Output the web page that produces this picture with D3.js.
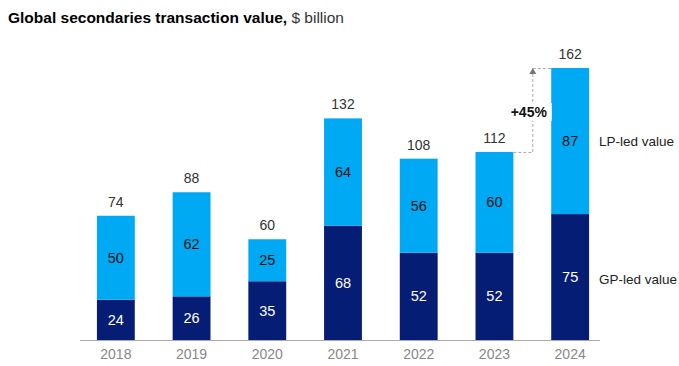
<!DOCTYPE html>
<html><head><meta charset="utf-8">
<script src="https://cdn.jsdelivr.net/npm/d3@7"></script>
<style>body{margin:0;background:#fff}svg{display:block}text{font-family:"Liberation Sans",Arial,sans-serif}</style>
</head><body><svg id="c" width="679" height="366"></svg>
<script>
const years = ["2018","2019","2020","2021","2022","2023","2024"];
const gpLed = [24,26,35,68,52,52,75];
const lpLed = [50,62,25,64,56,60,87];
const totals = [74,88,60,132,108,112,162];
const seriesNames = ["GP-led value","LP-led value"];
const growthLabel = "+45%";

const svg = d3.select("#c");
const baseY = 340;
const x = d3.scaleBand().domain(years).range([78, 608]).paddingInner(0.5).paddingOuter(0.25);
const y = d3.scaleLinear().domain([0,162]).range([baseY, 68]);
const navy = "#061d75", cyan = "#00a9f4";

// title
const t = svg.append("text").attr("x",8).attr("y",23).attr("font-size",15.5).attr("fill","#000");
t.append("tspan").attr("font-weight","bold").text("Global secondaries transaction value,");
t.append("tspan").attr("fill","#333").text(" $ billion");

const bw = x.bandwidth();
const g = svg.append("g");
years.forEach((yr,i)=>{
  const x0 = x(yr);
  g.append("rect").attr("x",x0).attr("width",bw).attr("y",y(gpLed[i])).attr("height",baseY-y(gpLed[i])).attr("fill",navy);
  g.append("rect").attr("x",x0).attr("width",bw).attr("y",y(gpLed[i]+lpLed[i])).attr("height",y(gpLed[i])-y(gpLed[i]+lpLed[i])).attr("fill",cyan);
  g.append("text").attr("x",x0+bw/2).attr("y",(y(gpLed[i])+baseY)/2).attr("dy","0.35em").attr("text-anchor","middle")
    .attr("font-size",14.5).attr("fill","#fff").text(gpLed[i]);
  g.append("text").attr("x",x0+bw/2).attr("y",(y(gpLed[i])+y(gpLed[i]+lpLed[i]))/2).attr("dy","0.35em").attr("text-anchor","middle")
    .attr("font-size",14.5).attr("fill","#111").text(lpLed[i]);
  g.append("text").attr("x",x0+bw/2).attr("y",y(totals[i])-9).attr("text-anchor","middle")
    .attr("font-size",14).attr("fill","#333").text(totals[i]);
});

// axis
svg.append("line").attr("x1",80).attr("x2",600).attr("y1",baseY+0.5).attr("y2",baseY+0.5).attr("stroke","#aaa").attr("stroke-width",1.2);
const xa = svg.append("g").attr("transform",`translate(0,${baseY})`).call(d3.axisBottom(x).tickSize(0).tickPadding(9));
xa.select(".domain").remove();
xa.selectAll("text").attr("font-size",14).attr("fill","#888").attr("font-family","Liberation Sans, Arial, sans-serif");

// legend labels
const last = years.length-1;
const lx = x(years[last]) + bw + 10;
svg.append("text").attr("x",lx).attr("y",(y(gpLed[last])+y(totals[last]))/2).attr("dy","0.35em").attr("font-size",13.5).attr("fill","#222").text(seriesNames[1]);
svg.append("text").attr("x",lx).attr("y",(y(gpLed[last])+baseY)/2 + 2).attr("dy","0.35em").attr("font-size",13.5).attr("fill","#222").text(seriesNames[0]);

// growth annotation
const a0 = x(years[5]) + bw, a1 = x(years[6]);
const ax = (a0+a1)/2 + 0.5;
const yA = y(totals[5]), yB = y(totals[6]);
const dash = "3,2";
svg.append("line").attr("x1",a0).attr("x2",ax).attr("y1",yA+0.5).attr("y2",yA+0.5).attr("stroke","#aaa").attr("stroke-dasharray",dash);
svg.append("line").attr("x1",ax).attr("x2",ax).attr("y1",yA).attr("y2",yB+6).attr("stroke","#aaa").attr("stroke-dasharray",dash);
svg.append("line").attr("x1",ax).attr("x2",a1).attr("y1",yB+0.5).attr("y2",yB+0.5).attr("stroke","#aaa").attr("stroke-dasharray",dash);
svg.append("path").attr("d",`M${ax-3.5},${yB+6}L${ax+3.5},${yB+6}L${ax},${yB}Z`).attr("fill","#777");
const midY = (yA+yB)/2 + 2;
svg.append("rect").attr("x",ax-21).attr("y",midY-9).attr("width",40).attr("height",18).attr("fill","#fff");
svg.append("text").attr("x",ax-4).attr("y",midY).attr("dy","0.35em").attr("text-anchor","middle").attr("font-size",14).attr("font-weight","bold").attr("fill","#111").text(growthLabel);
</script></body></html>
